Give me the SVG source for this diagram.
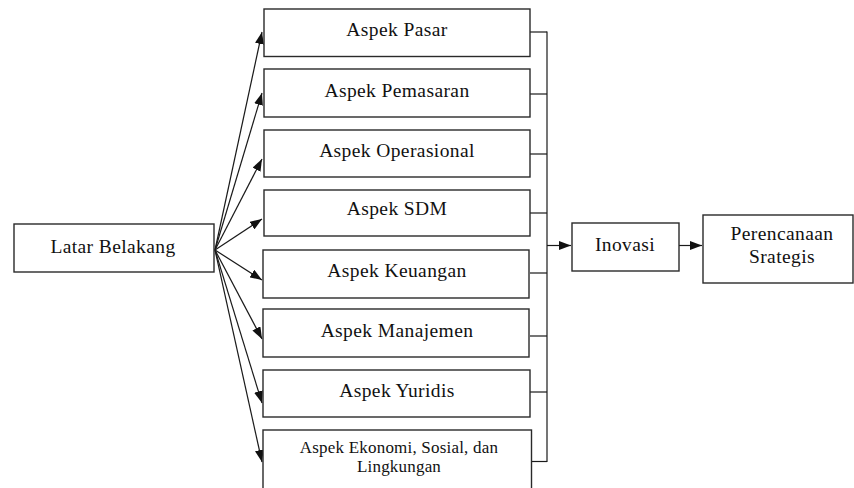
<svg xmlns="http://www.w3.org/2000/svg" width="854" height="488" viewBox="0 0 854 488">
  <style>
    .box { fill: #ffffff; stroke: #2a2a2a; stroke-width: 1.4; }
    .lbl { font-size: 19.5px; fill: #111111; text-anchor: middle; letter-spacing: 0.4px; }
    .sm { font-size: 17px; letter-spacing: 0.2px; }
    .ln { fill: none; stroke: #1a1a1a; stroke-width: 1.2; }
    .arr { fill: none; stroke: #1a1a1a; stroke-width: 1.2; marker-end: url(#head); }
  </style>
  <defs>
    <marker id="head" viewBox="0 0 12 9" refX="12" refY="4.5" markerWidth="12" markerHeight="9" markerUnits="userSpaceOnUse" orient="auto">
      <path d="M0,0 L12,4.5 L0,9 Z" fill="#111111"/>
    </marker>
  </defs>

  <rect width="854" height="488" fill="#ffffff"/>

  <!-- connectors -->
  <g id="connectors">
    <!-- fan-out from Latar Belakang to each aspect -->
    <line class="arr" x1="215" y1="250" x2="262" y2="32"/>
    <line class="arr" x1="215" y1="250" x2="262" y2="93"/>
    <line class="arr" x1="215" y1="250" x2="262" y2="159"/>
    <line class="arr" x1="215" y1="250" x2="262" y2="219"/>
    <line class="arr" x1="215" y1="250" x2="262" y2="280"/>
    <line class="arr" x1="215" y1="250" x2="262" y2="339"/>
    <line class="arr" x1="215" y1="250" x2="262" y2="403"/>
    <line class="arr" x1="215" y1="250" x2="262" y2="462"/>
    <!-- collector bus on the right of the aspects -->
    <line class="ln" x1="547" y1="31.5" x2="547" y2="462"/>
    <line class="ln" x1="530" y1="32" x2="547" y2="32"/>
    <line class="ln" x1="530" y1="94" x2="547" y2="94"/>
    <line class="ln" x1="530" y1="154" x2="547" y2="154"/>
    <line class="ln" x1="530" y1="213" x2="547" y2="213"/>
    <line class="ln" x1="530" y1="273" x2="547" y2="273"/>
    <line class="ln" x1="530" y1="336" x2="547" y2="336"/>
    <line class="ln" x1="530" y1="392" x2="547" y2="392"/>
    <line class="ln" x1="531" y1="461.5" x2="547" y2="461.5"/>
    <!-- bus to Inovasi, Inovasi to Perencanaan -->
    <line class="arr" x1="547" y1="245.5" x2="571" y2="245.5"/>
    <line class="arr" x1="679" y1="245.5" x2="702" y2="245.5"/>
  </g>

  <g font-family="'Liberation Serif', 'DejaVu Serif', 'Noto Serif', serif">
  <g id="latar-belakang">
    <rect class="box" x="14" y="224" width="200" height="48"/>
    <text class="lbl" x="113" y="253">Latar Belakang</text>
  </g>

  <g id="aspek-pasar">
    <rect class="box" x="264" y="9" width="266" height="47.5"/>
    <text class="lbl" x="397" y="36">Aspek Pasar</text>
  </g>
  <g id="aspek-pemasaran">
    <rect class="box" x="264" y="69" width="266" height="48"/>
    <text class="lbl" x="397" y="97">Aspek Pemasaran</text>
  </g>
  <g id="aspek-operasional">
    <rect class="box" x="264" y="130" width="266" height="47"/>
    <text class="lbl" x="397" y="157">Aspek Operasional</text>
  </g>
  <g id="aspek-sdm">
    <rect class="box" x="264" y="190" width="266" height="46"/>
    <text class="lbl" x="397" y="215">Aspek SDM</text>
  </g>
  <g id="aspek-keuangan">
    <rect class="box" x="263" y="250" width="266" height="48"/>
    <text class="lbl" x="397" y="277">Aspek Keuangan</text>
  </g>
  <g id="aspek-manajemen">
    <rect class="box" x="263" y="309" width="266" height="48"/>
    <text class="lbl" x="397" y="337">Aspek Manajemen</text>
  </g>
  <g id="aspek-yuridis">
    <rect class="box" x="263" y="370" width="267" height="47"/>
    <text class="lbl" x="397" y="397">Aspek Yuridis</text>
  </g>
  <g id="aspek-ekonomi">
    <rect class="box" x="263" y="430" width="268.5" height="66"/>
    <text class="lbl sm" x="399" y="453">Aspek Ekonomi, Sosial, dan</text>
    <text class="lbl sm" x="399" y="472">Lingkungan</text>
  </g>

  <g id="inovasi">
    <rect class="box" x="572" y="223" width="107" height="48"/>
    <text class="lbl" x="625" y="251">Inovasi</text>
  </g>

  <g id="perencanaan-strategis">
    <rect class="box" x="703" y="215" width="150" height="68"/>
    <text class="lbl" x="782" y="240">Perencanaan</text>
    <text class="lbl" x="782" y="263">Srategis</text>
  </g>
  </g>
</svg>
